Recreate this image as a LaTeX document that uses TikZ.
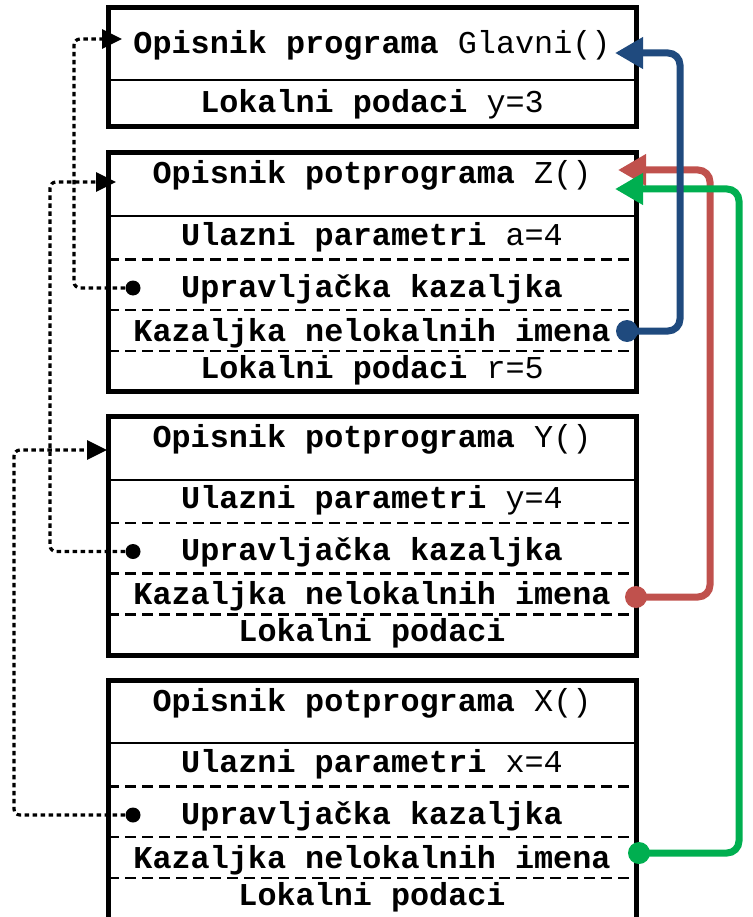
\documentclass[tikz,border=0pt]{standalone}
\usepackage{fontspec}
\setmonofont{Liberation Mono}
\usetikzlibrary{arrows.meta}
\definecolor{cblue}{HTML}{1F4A7E}
\definecolor{cred}{HTML}{C0514D}
\definecolor{cgreen}{HTML}{00AF50}
\newcommand\procbox[6]{%
  \node[frame, minimum height=#6] (#1box) at (108,#2) {};
  \draw[solidsep] (108,#2+63) -- (636,#2+63);
  \draw[dashsep] (108,#2+106.5) -- (636,#2+106.5);
  \draw[dashsep] (108,#2+157) -- (636,#2+157);
  \draw[dashsep] (108,#2+198) -- (636,#2+198);
  \node[lbl] (#1title) at (372,#2+31) {\textbf{Opisnik potprograma} #3};
  \node[lbl] (#1par) at (372,#2+92) {\textbf{Ulazni parametri} #4};
  \node[lbl] (#1upr) at (372,#2+144) {\textbf{Upravljačka kazaljka}};
  \node[lbl] (#1kaz) at (372,#2+188) {\textbf{Kazaljka nelokalnih imena}};
  \node[lbl] (#1lok) at (372,#2+225) {\textbf{Lokalni podaci}#5};
  \node[bdot] (#1dot) at (133,#2+135) {};
}
\begin{document}
\begin{tikzpicture}[x=1pt,y=-1pt,
  frame/.style={draw, line width=5pt, minimum width=528pt, inner sep=0pt, outer sep=0pt, anchor=north west},
  solidsep/.style={line width=2pt},
  dashsep/.style={line width=2.2pt, dash pattern=on 11pt off 6pt},
  lbl/.style={anchor=base, inner sep=0pt, font=\fontsize{31.8}{36}\selectfont\ttfamily},
  bdot/.style={circle, fill=black, inner sep=0pt, minimum size=15pt},
  cdot/.style={circle, fill=#1, inner sep=0pt, minimum size=22pt},
  dotconn/.style={line width=3.2pt, dash pattern=on 4.5pt off 3.5pt, rounded corners=6pt, -{Triangle[length=20pt,width=19pt]}},
  cconn/.style={draw=#1, line width=7pt, rounded corners=12pt, -{Triangle[length=28pt,width=30pt]}}
]
\useasboundingbox (0,0) rectangle (752,917);
% main program
\node[frame, minimum height=119pt] (gbox) at (108,8) {};
\draw[solidsep] (108,80) -- (636,80);
\node[lbl] (gtitle) at (372,54) {\textbf{Opisnik programa} Glavni()};
\node[lbl] (glok) at (372,113) {\textbf{Lokalni podaci} y=3};
% subprograms
\procbox{z}{153}{Z()}{a=4}{\ r=5}{238pt}
\procbox{y}{416.5}{Y()}{y=4}{}{239pt}
\procbox{x}{680}{X()}{x=4}{}{260pt}
% arrow targets
\coordinate (gtipL) at (122,39);
\coordinate (ztipL) at (116,182);
\coordinate (ytipL) at (107,450);
\coordinate (gtipR) at (615,53);
\coordinate (ztipR1) at (618,170);
\coordinate (ztipR2) at (615,189);
% dotted control links
\draw[dotconn] (zdot.center) -- ++(-59,0) |- (gtipL);
\draw[dotconn] (ydot.center) -- ++(-83,0) |- (ztipL);
\draw[dotconn] (xdot.center) -- ++(-119,0) |- (ytipL);
% coloured nonlocal links
\node[cdot=cred] (ykdot) at (636,597) {};
\node[cdot=cgreen] (xkdot) at (639,853) {};
\node[cdot=cblue] (zkdot) at (627,331) {};
\draw[cconn=cred] (ykdot.center) -- ++(74,0) |- (ztipR1);
\draw[cconn=cgreen] (xkdot.center) -- ++(100,0) |- (ztipR2);
\draw[cconn=cblue] (zkdot.center) -- ++(53,0) |- (gtipR);
\end{tikzpicture}
\end{document}
